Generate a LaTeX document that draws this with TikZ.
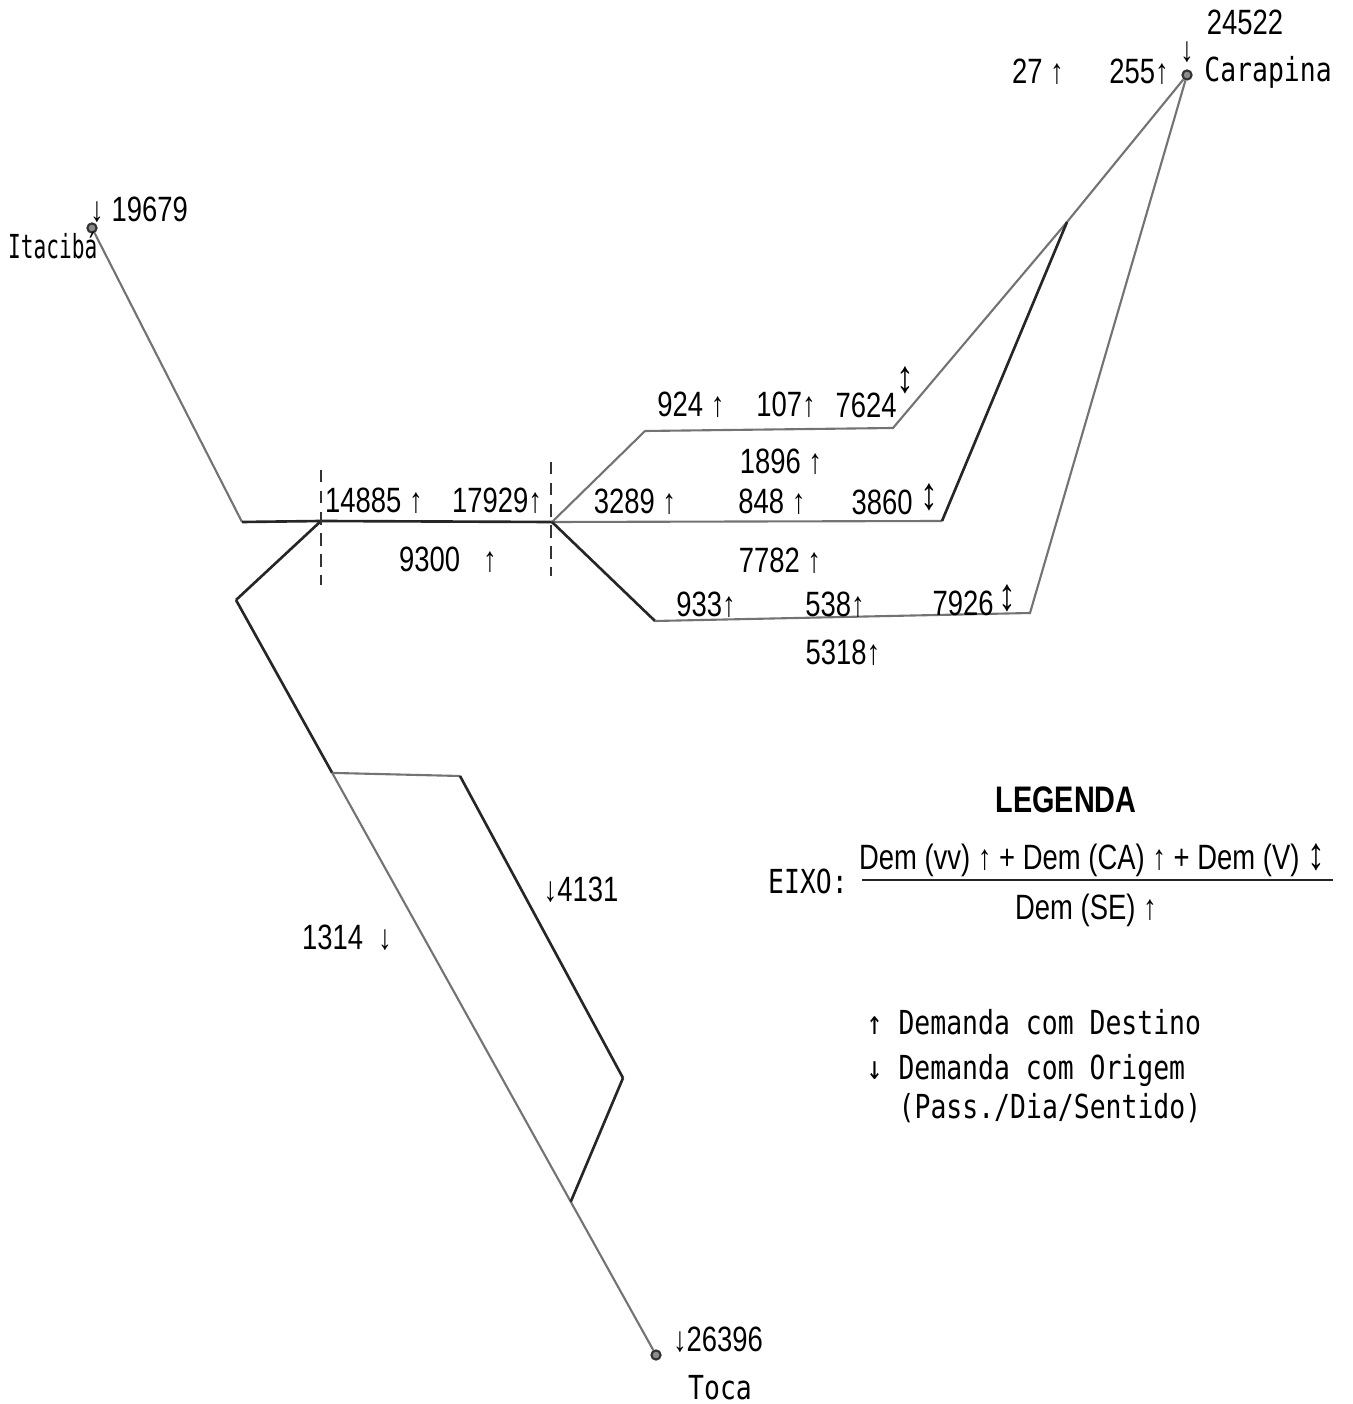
\documentclass[tikz,border=0pt]{standalone}
\usepackage{fontspec}
\newfontfamily\numfont[FakeStretch=0.78]{Liberation Sans}
\newfontfamily\typefont[FakeStretch=0.8]{DejaVu Sans Mono}
\usetikzlibrary{calc}
\tikzset{
  centered/.style = { align=center, anchor=center, inner sep=0pt },
       num/.style = { font=\numfont\fontsize{10}{12}\selectfont, centered },
     place/.style = { font=\typefont\fontsize{9.4}{11}\selectfont, centered },
   legtext/.style = { font=\typefont\fontsize{9.4}{11}\selectfont, anchor=west, inner sep=0pt },
      rail/.style = { line width=0.75pt, color=black!85 },
  railgray/.style = { line width=0.6pt, color=black!55 },
   station/.style = { circle, draw=black!80, fill=black!45, line width=0.6pt, inner sep=0pt, minimum size=2.6pt },
    cutline/.style = { line width=0.8pt, dash pattern=on 3.5pt off 2.5pt, color=black!80 },
}
\newcommand{\ud}{{\fontsize{13}{13}\selectfont ↕}}
\begin{document}
\begin{tikzpicture}[x={(0.01cm,0)}, y={(0,-0.01cm)}]
  \useasboundingbox (0,0) rectangle (1352,1404);

  % stations
  \node[station] (itaciba)  at (92,228)   {};
  \node[station] (carapina) at (1187,75)  {};
  \node[station] (toca)     at (656,1355) {};

  % corners of the axes
  \coordinate (jw) at (242,522);
  \coordinate (ja) at (321,521);
  \coordinate (jb) at (552,522);
  \coordinate (sw) at (236,600);
  \coordinate (u1) at (645,431);
  \coordinate (u2) at (893,428);
  \coordinate (m1) at (942,521);
  \coordinate (l1) at (655,621);
  \coordinate (l2) at (1030,613);
  \coordinate (jn) at (1067,222);
  \coordinate (b1) at ($(sw)!0.229!(toca)$);
  \coordinate (b2) at (460,776);
  \coordinate (b3) at (623,1078);
  \coordinate (b4) at ($(sw)!0.797!(toca)$);

  \draw [railgray] (itaciba) -- (jw);
  \draw [rail] (jw) -- (ja) -- (jb);
  \draw [rail] (ja) -- (sw);
  \draw [rail] (sw) -- (b1);
  \draw [railgray] (b1) -- (toca);
  \draw [railgray] (b1) -- (b2);
  \draw [rail] (b2) -- (b3);
  \draw [rail] (b3) -- (b4);
  \draw [railgray] (jb) -- (u1) -- (u2) -- (jn) -- (carapina);
  \draw [railgray] (jb) -- (m1);
  \draw [rail] (m1) -- (jn);
  \draw [rail] (jb) -- (l1);
  \draw [railgray] (l1) -- (l2) -- (carapina);

  % sections
  \coordinate (ca-top) at (321,470);
  \coordinate (ca-bot) at (321,585);
  \coordinate (cb-top) at (551,462);
  \coordinate (cb-bot) at (551,576);
  \draw [cutline] (ca-top) -- (ca-bot);
  \draw [cutline] (cb-top) -- (cb-bot);

  % station names and totals
  \node[place, anchor=east] (itaciba-name) at (98,246) {\scalebox{0.8}[1]{Itacibá}};
  \node[num]   (itaciba-dem)   at (139,210)  {↓ 19679};
  \node[place] (carapina-name) at (1268,72)  {Carapina};
  \node[num]   (carapina-dem)  at (1245,22)  {24522};
  \node[num]   (carapina-arr)  at (1187,52)  {↓};
  \node[num]   (c27)           at (1038,72)  {27 ↑};
  \node[num]   (c255)          at (1139,72)  {255↑};
  \node[place] (toca-name)     at (720,1388) {Toca};
  \node[num]   (toca-dem)      at (718,1340) {↓26396};

  % axis demands
  \node[num] (d14885) at (374,501) {14885 ↑};
  \node[num] (d17929) at (497,501) {17929↑};
  \node[num] (d9300)  at (448,560) {9300 \ \ ↑};
  \node[num] (d924)   at (691,405) {924 ↑};
  \node[num] (d107)   at (786,405) {107↑};
  \node[num] (d7624)  at (866,405) {7624};
  \node[num] (v7624)  at (905,380) {\ud};
  \node[num] (d1896)  at (781,462) {1896 ↑};
  \node[num] (d3289)  at (635,502) {3289 ↑};
  \node[num] (d848)   at (772,502) {848 ↑};
  \node[num] (d3860)  at (882,502) {3860};
  \node[num] (v3860)  at (929,497) {\ud};
  \node[num] (d7782)  at (780,561) {7782 ↑};
  \node[num] (d933)   at (706,605) {933↑};
  \node[num] (d538)   at (835,605) {538↑};
  \node[num] (d7926)  at (963,603) {7926};
  \node[num] (v7926)  at (1007,598) {\ud};
  \node[num] (d5318)  at (843,653) {5318↑};
  \node[num] (d1314)  at (347,938) {1314 \ ↓};
  \node[num] (d4131)  at (581,890) {↓4131};

  % legend
  \node[num, font=\numfont\bfseries\fontsize{10.5}{12}\selectfont] (legenda) at (1066,800) {LEGENDA};
  \node[place] (eixo) at (808,881) {EIXO:};
  \node[num] (numer) at (1092,860) {Dem (vv) ↑ + Dem (CA) ↑ + Dem (V) \ud};
  \node[num] (denom) at (1086,910) {Dem (SE) ↑};
  \coordinate (frac-l) at (862,880);
  \coordinate (frac-r) at (1333,880);
  \draw [rail, line width=0.6pt] (frac-l) -- (frac-r);
  \node[legtext] (destino) at (866,1022) {↑ Demanda com Destino};
  \node[legtext] (origem)  at (866,1070) {↓ Demanda com Origem};
  \node[legtext] (unidade) at (898,1108) {(Pass./Dia/Sentido)};
\end{tikzpicture}
\end{document}
